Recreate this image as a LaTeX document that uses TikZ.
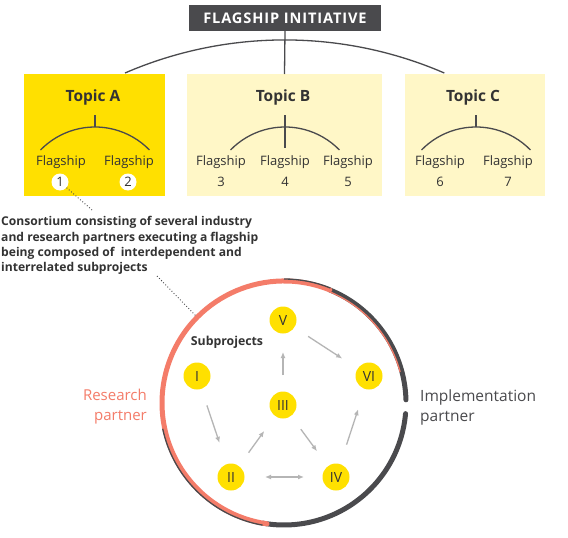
\documentclass[tikz,border=0pt]{standalone}
\usepackage{fontspec}
\setmainfont{Open Sans}
\newfontfamily\hdrfont[LetterSpace=6]{Open Sans}
\usetikzlibrary{arrows.meta}
\definecolor{darkg}{HTML}{4A4A4D}
\definecolor{yelA}{HTML}{FFE000}
\definecolor{yelL}{HTML}{FFF7C7}
\definecolor{salmon}{HTML}{F47C69}
\definecolor{arrg}{HTML}{B5B5B5}
\definecolor{txt}{HTML}{333333}
\tikzset{
  lined/.style={draw=darkg, line width=1.3pt},
  topicbox/.style={draw=none, inner sep=0pt, outer sep=0pt, minimum height=122pt},
  ttitle/.style={font=\bfseries\fontsize{15.5}{18}\selectfont, text=txt, inner sep=0pt},
  flab/.style={font=\fontsize{13}{15}\selectfont, text=txt, inner sep=0pt},
  numc/.style={circle, fill=white, minimum size=17pt, inner sep=0pt, font=\fontsize{13}{15}\selectfont, text=txt},
  subp/.style={circle, fill=yelA, minimum size=27pt, inner sep=0pt, outer sep=0pt, font=\fontsize{14}{16}\selectfont, text=txt},
  flow/.style={draw=arrg, line width=1.3pt, -{Latex[length=6pt,width=5pt]}, shorten <=16.5pt, shorten >=18.5pt},
  dots/.style={draw=darkg, line width=0.9pt, dash pattern=on 0.9pt off 2.1pt},
  darkring/.style={draw=darkg, line width=5pt, line cap=round},
  redring/.style={draw=salmon, line width=5pt, line cap=round},
  thinring/.style={line width=1.3pt}
}
\begin{document}
\begin{tikzpicture}[x=1pt,y=-1pt]
\useasboundingbox[fill=white] (0,0) rectangle (568,538);

% header
\node[fill=darkg, minimum width=192pt, minimum height=26pt, inner sep=0pt,
  text=white, font=\hdrfont\bfseries\fontsize{14.6}{17}\selectfont] (hdr) at (285,18) {FLAGSHIP INITIATIVE};

% topic boxes
\node[topicbox, fill=yelA, minimum width=141pt] (tA) at (94.5,135) {};
\node[topicbox, fill=yelL, minimum width=195pt] (tB) at (284.5,135) {};
\node[topicbox, fill=yelL, minimum width=140pt] (tC) at (475,135) {};

% top tree
\coordinate (bigL) at (125,73);
\draw[lined] (hdr.south) -- (tB.north);
\draw[lined] (bigL) arc[start angle=-113.4, end angle=-66.6, radius=402];

% titles
\node[ttitle] (ttA) at (93,97) {Topic A};
\node[ttitle] (ttB) at (283,97) {Topic B};
\node[ttitle] (ttC) at (473,97) {Topic C};

% sub trees
\coordinate (aTop) at (95,115); \coordinate (aMid) at (95,127);
\coordinate (bTop) at (285,115); \coordinate (bMid) at (285,148);
\coordinate (cTop) at (476,115); \coordinate (cMid) at (476,127);
\coordinate (aL) at (40.5,150); \coordinate (bL) at (230.5,150); \coordinate (cL) at (421.5,150);
\draw[lined] (aTop) -- (aMid);
\draw[lined] (bTop) -- (bMid);
\draw[lined] (cTop) -- (cMid);
\draw[lined] (aL) arc[start angle=-135.8, end angle=-44.2, radius=76];
\draw[lined] (bL) arc[start angle=-135.8, end angle=-44.2, radius=76];
\draw[lined] (cL) arc[start angle=-135.8, end angle=-44.2, radius=76];

% flagships
\node[flab] (f1) at (61,162) {Flagship};
\node[flab] (f2) at (129,162) {Flagship};
\node[flab] (f3) at (221,162) {Flagship};
\node[flab] (f4) at (285,162) {Flagship};
\node[flab] (f5) at (348,162) {Flagship};
\node[flab] (f6) at (440,162) {Flagship};
\node[flab] (f7) at (508,162) {Flagship};
\node[numc] (n1) at (60,182) {1};
\node[numc] (n2) at (128,182) {2};
\node[flab] (n3) at (221,182) {3};
\node[flab] (n4) at (285,182) {4};
\node[flab] (n5) at (348,182) {5};
\node[flab] (n6) at (440,182) {6};
\node[flab] (n7) at (508,182) {7};

% consortium text
\node[anchor=north west, inner sep=0pt, align=left, text=txt,
  font=\bfseries\fontsize{12.1}{15.3}\selectfont] (cons) at (1,216.5)
  {Consortium consisting of several industry\\and research partners executing a flagship\\being composed of~ interdependent and\\interrelated subprojects};
\coordinate (d1e) at (92,210);
\draw[dots] (n1) -- (d1e);

% ring
\coordinate (C) at (284,403);
\draw[darkring] (C) ++(-1.5:122) arc[start angle=-1.5, end angle=-68, radius=122];
\draw[darkring] (C) ++(5:122) arc[start angle=5, end angle=100, radius=122];
\draw[redring] (C) ++(-68:122) arc[start angle=-68, end angle=-262, radius=122];
\draw[darkg, thinring] (C) ++(-68:124) arc[start angle=-68, end angle=-90, radius=124];
\draw[darkg, thinring] (C) ++(100:124) arc[start angle=100, end angle=168, radius=124];
\draw[salmon, thinring] (C) ++(-15:120.2) arc[start angle=-15, end angle=-68, radius=120.2];

\coordinate (d2s) at (157,276);
\coordinate (d2e) at (196,316);
\draw[dots] (d2s) -- (d2e);

% subprojects
\node[font=\bfseries\fontsize{12.3}{14}\selectfont, text=txt, inner sep=0pt] (sp) at (227,342) {Subprojects};
\node[subp] (I) at (197,376) {I};
\node[subp] (II) at (231,477) {II};
\node[subp] (III) at (283,405) {III};
\node[subp] (IV) at (336,477) {IV};
\node[subp] (V) at (283,320) {V};
\node[subp] (VI) at (369,376) {VI};

\draw[flow, shorten <=17.5pt, shorten >=22.5pt] (I) -- (II);
\draw[flow] (II) -- (III);
\draw[flow] (III) -- (V);
\draw[flow] (V) -- (VI);
\draw[flow] (III) -- (IV);
\draw[flow, shorten <=20.5pt, shorten >=21.5pt] (IV) -- (VI);
\draw[flow, {Latex[length=6pt,width=5pt]}-{Latex[length=6pt,width=5pt]}, shorten <=20.5pt, shorten >=18.5pt] (II) -- (IV);

% partner labels
\node[anchor=east, align=right, inner sep=0pt, text=salmon,
  font=\fontsize{15}{20}\selectfont] (rp) at (147,407) {Research\\partner};
\node[anchor=west, align=left, inner sep=0pt, text=darkg,
  font=\fontsize{15.5}{20}\selectfont] (ip) at (420,407) {Implementation\\partner};
\end{tikzpicture}
\end{document}
